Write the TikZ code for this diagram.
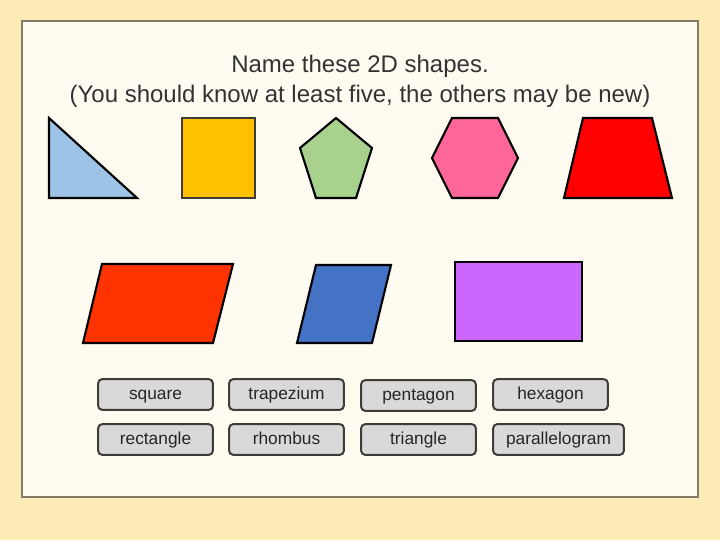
\documentclass[tikz,border=0pt]{standalone}
\usepackage{fontspec}
\setmainfont{Liberation Sans}
\usepackage{tikz}
\usetikzlibrary{positioning}

\definecolor{pagebg}{HTML}{FFEBB5}
\definecolor{panelbg}{HTML}{FFFBF0}
\definecolor{panelline}{HTML}{857B6A}
\definecolor{btnfill}{HTML}{D9D9D9}
\definecolor{btnline}{HTML}{3F3B37}
\definecolor{textgray}{HTML}{333333}
\definecolor{worddark}{HTML}{262626}
\definecolor{triblue}{HTML}{9DC3E6}
\definecolor{sqyellow}{HTML}{FFC000}
\definecolor{pentgreen}{HTML}{A9D18E}
\definecolor{hexpink}{HTML}{FF6699}
\definecolor{trapred}{HTML}{FF0000}
\definecolor{paraorange}{HTML}{FF3300}
\definecolor{rhomblue}{HTML}{4472C4}
\definecolor{rectpurple}{HTML}{CC66FF}

\begin{document}
\begin{tikzpicture}[x=0.75pt,y=-0.75pt,
		flat/.style={draw=black, line width=1.6pt, line join=miter},
		word/.style={draw=btnline, line width=1.5pt, fill=btnfill, rounded corners=3pt,
			minimum width=86pt, minimum height=23pt, inner sep=0pt,
			text height=9.4pt, text depth=2.6pt,
			font=\fontsize{13}{15}\selectfont, text=worddark}]
				% page and panel
				\fill[pagebg] (0,0) rectangle (720,540);
				\useasboundingbox (0,0) rectangle (720,540);
				\draw[panelline, fill=panelbg, line width=1.5pt] (22,21) rectangle (698,497);

				\node (title) at (360,81) [align=center, text=textgray, font=\fontsize{18}{22.5}\selectfont]
					{Name these 2D shapes.\\(You should know at least five, the others may be new)};

				% top row of shapes
				\draw[flat, fill=triblue] (49,118) -- (49,198) -- (137,198) -- cycle;
				\draw[flat, draw=btnline, fill=sqyellow] (182,118) rectangle (255,198);
				\draw[flat, fill=pentgreen] (336,118) -- (372,148) -- (356,198) -- (316,198) -- (300,148) -- cycle;
				\draw[flat, fill=hexpink] (452,118) -- (498,118) -- (518,158) -- (498,198) -- (452,198) -- (432,158) -- cycle;
				\draw[flat, fill=trapred] (583,118) -- (652,118) -- (672,198) -- (564,198) -- cycle;

				% second row of shapes
				\draw[flat, fill=paraorange] (102,264) -- (233,264) -- (213,343) -- (83,343) -- cycle;
				\draw[flat, fill=rhomblue] (316,265) -- (391,265) -- (372,343) -- (297,343) -- cycle;
				\draw[flat, fill=rectpurple] (455,262) rectangle (582,341);

				% word cards
				\node[word] (square) at (155.5,394.5) {square};
				\node[word] (trapezium) at (286.5,394.5) {trapezium};
				\node[word] (pentagon) at (418.5,395.5) {pentagon};
				\node[word] (hexagon) at (550.5,394.5) {hexagon};
				\node[word] (rectangle) at (155.5,439.5) {rectangle};
				\node[word] (rhombus) at (286.5,439.5) {rhombus};
				\node[word] (triangle) at (418.5,439.5) {triangle};
				\node[word, minimum width=98pt] (parallelogram) at (558.5,439.5) {parallelogram};
		\end{tikzpicture}
\end{document}
